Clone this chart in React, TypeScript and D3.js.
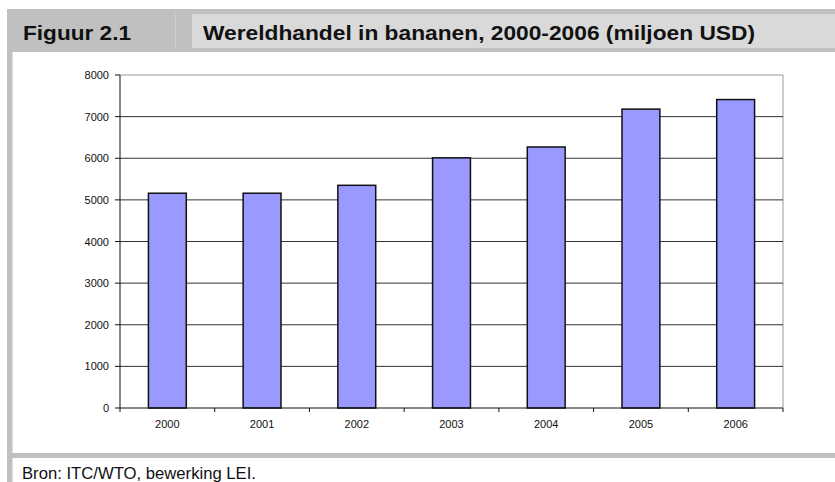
import React from "react";
import * as d3 from "d3";

const years = ["2000", "2001", "2002", "2003", "2004", "2005", "2006"];
const values = [5160, 5160, 5350, 6010, 6270, 7180, 7410];
const yTicks = [0, 1000, 2000, 3000, 4000, 5000, 6000, 7000, 8000];
const figLabel = "Figuur 2.1";
const title = "Wereldhandel in bananen, 2000-2006 (miljoen USD)";
const source = "Bron: ITC/WTO, bewerking LEI.";

const W = 835;
const H = 482;
const narrow = "'Liberation Sans Narrow', 'Arial Narrow', 'Liberation Sans', sans-serif";
const sans = "'Liberation Sans', Arial, sans-serif";

export default function App() {
  const left = 120, right = 783, top = 75, bottom = 408;
  const x = d3.scaleBand<string>().domain(years).range([left, right]).paddingInner(0.6).paddingOuter(0.3);
  const xc = d3.scaleBand<string>().domain(years).range([left, right]);
  const y = d3.scaleLinear().domain([0, 8000]).range([bottom, top]);

  return (
    <svg width={W} height={H} style={{ position: "absolute", left: 0, top: 0 }}>
      <rect x={0} y={0} width={W} height={H} fill="#fff" />
      {/* header */}
      <rect x={7} y={9} width={W - 7} height={43} fill="#c0c0c0" />
      <rect x={192} y={14} width={W - 192} height={34} fill="#d9d9d9" />
      <line x1={175.5} x2={175.5} y1={14} y2={48} stroke="#d0d0d0" />
      <text x={23} y={40} fontFamily={narrow} fontWeight="bold" fontSize={21} fill="#111"
        textLength={108} lengthAdjust="spacingAndGlyphs">{figLabel}</text>
      <text x={203} y={40} fontFamily={narrow} fontWeight="bold" fontSize={21} fill="#111"
        textLength={552} lengthAdjust="spacingAndGlyphs">{title}</text>
      {/* left strip and bottom band */}
      <rect x={7} y={52} width={5.5} height={H - 52} fill="#c0c0c0" />
      <rect x={7} y={453} width={W - 7} height={5} fill="#c0c0c0" />
      <text x={22} y={479} fontFamily={narrow} fontSize={17} fill="#111"
        textLength={234} lengthAdjust="spacingAndGlyphs">{source}</text>

      {/* plot area border */}
      <line x1={left} x2={right} y1={top} y2={top} stroke="#999" />
      <line x1={right} x2={right} y1={top} y2={bottom} stroke="#999" />
      {/* gridlines */}
      {yTicks.filter(t => t > 0 && t < 8000).map(t => (
        <line key={t} x1={left} x2={right} y1={y(t)} y2={y(t)} stroke="#333" strokeWidth={1} />
      ))}
      {/* bars */}
      {values.map((v, i) => (
        <rect key={years[i]} x={x(years[i])} y={y(v)} width={x.bandwidth()} height={bottom - y(v)}
          fill="#9999ff" stroke="#111" strokeWidth={1.5} />
      ))}
      {/* y axis */}
      <line x1={left} x2={left} y1={top} y2={bottom} stroke="#111" />
      {yTicks.map(t => (
        <g key={t}>
          <line x1={left - 5} x2={left} y1={y(t)} y2={y(t)} stroke="#111" />
          <text x={109} y={y(t) + 4} textAnchor="end" fontFamily={sans} fontSize={11} fill="#111">{t}</text>
        </g>
      ))}
      {/* x axis */}
      <line x1={left} x2={right} y1={bottom} y2={bottom} stroke="#111" />
      {years.map(yr => (
        <line key={"t" + yr} x1={(xc(yr) as number) + xc.bandwidth()} x2={(xc(yr) as number) + xc.bandwidth()} y1={bottom} y2={bottom + 4} stroke="#111" />
      ))}
      <line x1={left} x2={left} y1={bottom} y2={bottom + 4} stroke="#111" />
      {years.map(yr => (
        <text key={"l" + yr} x={(x(yr) as number) + x.bandwidth() / 2} y={428} textAnchor="middle" fontFamily={sans} fontSize={11} fill="#111">{yr}</text>
      ))}
    </svg>
  );
}
